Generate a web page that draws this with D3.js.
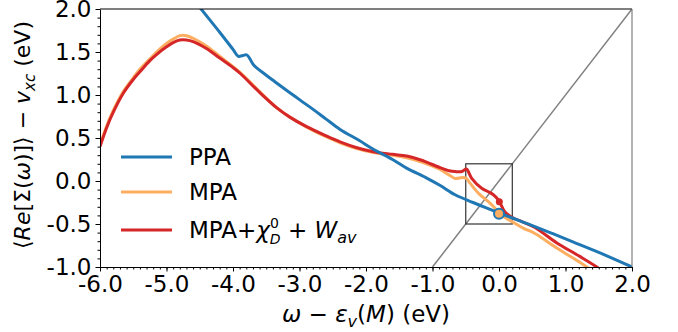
<!DOCTYPE html>
<html>
<head>
<meta charset="utf-8">
<script src="https://cdn.jsdelivr.net/npm/d3@7"></script>
<style>
body { margin: 0; background: #fff; }
svg { font-family: "DejaVu Sans", sans-serif; }
</style>
</head>
<body>
<svg width="678" height="332"></svg>
<script>
var ppaX = [-4.6, -4.47, -4.2, -4.0, -3.92, -3.85, -3.79, -3.69, -3.5, -3.37, -3.15, -2.99, -2.79, -2.6, -2.39, -2.1, -1.89, -1.6, -1.39, -1.1, -0.89, -0.66, -0.39, -0.2, 0.0, 0.2, 0.37, 0.54, 0.8, 1.12, 1.5, 2.0];
var ppaY = [2.12, 1.99, 1.73, 1.53, 1.45, 1.46, 1.465, 1.35, 1.23, 1.155, 1.03, 0.94, 0.83, 0.72, 0.60, 0.47, 0.37, 0.25, 0.15, 0.04, -0.05, -0.16, -0.25, -0.31, -0.37, -0.43, -0.48, -0.53, -0.61, -0.71, -0.83, -1.0];

var mpaX = [-6.0, -5.9, -5.8, -5.65, -5.5, -5.4, -5.25, -5.15, -5.0, -4.9, -4.8, -4.7, -4.6, -4.4, -4.2, -4.0, -3.89, -3.6, -3.34, -3.14, -2.9, -2.6, -2.39, -2.15, -1.89, -1.6, -1.39, -1.2, -1.09, -0.9, -0.75, -0.66, -0.55, -0.49, -0.45, -0.39, -0.3, -0.16, -0.08, 0.0, 0.1, 0.19, 0.37, 0.54, 0.87, 1.1, 1.32, 1.4];
var mpaY = [0.41, 0.64, 0.82, 1.04, 1.20, 1.30, 1.42, 1.50, 1.60, 1.65, 1.69, 1.69, 1.66, 1.57, 1.45, 1.33, 1.26, 1.04, 0.85, 0.74, 0.63, 0.515, 0.445, 0.38, 0.33, 0.30, 0.27, 0.23, 0.20, 0.14, 0.07, 0.03, 0.04, 0.03, -0.01, -0.07, -0.15, -0.24, -0.30, -0.37, -0.43, -0.47, -0.55, -0.61, -0.78, -0.89, -1.0, -1.05];

var mpadX = [-6.0, -5.9, -5.8, -5.65, -5.5, -5.4, -5.25, -5.15, -5.0, -4.9, -4.8, -4.7, -4.6, -4.4, -4.2, -4.0, -3.89, -3.6, -3.34, -3.14, -2.9, -2.6, -2.39, -2.15, -1.89, -1.6, -1.39, -1.2, -1.09, -0.9, -0.75, -0.66, -0.56, -0.49, -0.45, -0.41, -0.26, -0.16, -0.085, -0.01, 0.09, 0.215, 0.37, 0.54, 0.87, 1.2, 1.47, 1.55];
var mpadY = [0.40, 0.62, 0.80, 1.02, 1.18, 1.27, 1.40, 1.47, 1.56, 1.61, 1.64, 1.64, 1.62, 1.54, 1.43, 1.32, 1.25, 1.03, 0.85, 0.74, 0.635, 0.525, 0.455, 0.39, 0.34, 0.31, 0.29, 0.25, 0.22, 0.16, 0.12, 0.11, 0.11, 0.14, 0.09, 0.03, -0.085, -0.125, -0.16, -0.22, -0.36, -0.43, -0.48, -0.54, -0.72, -0.87, -1.0, -1.05];

var qpPPA = [0.0, -0.38];
var qpMPAD = [0.005, -0.24];

var xTicks = [-6, -5, -4, -3, -2, -1, 0, 1, 2];
var yTicks = [-1.0, -0.5, 0.0, 0.5, 1.0, 1.5, 2.0];

var series = [
    {name: "MPA", xs: mpaX, ys: mpaY, color: "#fdae61"},
    {name: "MPA+", xs: mpadX, ys: mpadY, color: "#d62728"},
    {name: "PPA", xs: ppaX, ys: ppaY, color: "#1f77b4"}
];

var svg = d3.select("svg"),
    margin = {top: 9, right: 46, bottom: 65, left: 100},
    width = 678 - margin.left - margin.right,
    height = 332 - margin.top - margin.bottom;

var x = d3.scaleLinear().domain([-6, 2]).range([0, width]);
var y = d3.scaleLinear().domain([-1, 2]).range([height, 0]);

var g = svg.append("g").attr("transform", "translate(" + margin.left + "," + margin.top + ")");

g.append("clipPath").attr("id", "clip")
    .append("rect").attr("width", width).attr("height", height);

var plot = g.append("g").attr("clip-path", "url(#clip)");

// diagonal y = x
plot.append("line")
    .attr("x1", x(-1)).attr("y1", y(-1))
    .attr("x2", x(2)).attr("y2", y(2))
    .attr("stroke", "#808080").attr("stroke-width", 1.5);

// zoom box
plot.append("rect")
    .attr("x", x(-0.5)).attr("y", y(0.2))
    .attr("width", x(0.2) - x(-0.5)).attr("height", y(-0.5) - y(0.2))
    .attr("fill", "none").attr("stroke", "#333").attr("stroke-width", 1.2);

var line = d3.line()
    .x(function (d) { return x(d[0]); })
    .y(function (d) { return y(d[1]); })
    .curve(d3.curveCatmullRom.alpha(0.5));

series.forEach(function (s) {
    plot.append("path")
        .datum(d3.zip(s.xs, s.ys))
        .attr("fill", "none")
        .attr("stroke", s.color)
        .attr("stroke-width", 3)
        .attr("stroke-linejoin", "round")
        .attr("d", line);
});

plot.append("circle")
    .attr("cx", x(qpMPAD[0])).attr("cy", y(qpMPAD[1])).attr("r", 3.5)
    .attr("fill", "#d62728");

plot.append("circle")
    .attr("cx", x(qpPPA[0])).attr("cy", y(qpPPA[1])).attr("r", 5)
    .attr("fill", "#fdae61").attr("stroke", "#1f77b4").attr("stroke-width", 2);

// frame
g.append("line").attr("x1", 0).attr("x2", width).attr("y1", 0).attr("y2", 0)
    .attr("stroke", "#000").attr("stroke-width", 1);
g.append("line").attr("x1", width).attr("x2", width).attr("y1", 0).attr("y2", height)
    .attr("stroke", "#808080").attr("stroke-width", 1.2);

// axes
var fmt = function (d) { return d.toFixed(1); };

var xMinor = d3.range(-60, 21).map(function (d) { return d / 10; });
var yMinor = d3.range(-10, 21).map(function (d) { return d / 10; });

g.append("g").attr("transform", "translate(0," + height + ")")
    .call(d3.axisBottom(x).tickValues(xMinor).tickSize(2.5).tickFormat(""))
    .call(function (a) { a.select(".domain").remove(); });
g.append("g").attr("transform", "translate(0," + height + ")")
    .call(d3.axisBottom(x).tickValues(xTicks).tickSize(4.5).tickSizeOuter(0).tickPadding(4).tickFormat(fmt))
    .call(function (a) {
        a.selectAll("text").attr("font-size", 23).attr("fill", "#000").attr("font-family", "DejaVu Sans");
    });

g.append("g")
    .call(d3.axisLeft(y).tickValues(yMinor).tickSize(2.5).tickFormat(""))
    .call(function (a) { a.select(".domain").remove(); });
g.append("g")
    .call(d3.axisLeft(y).tickValues(yTicks).tickSize(4.5).tickSizeOuter(0).tickPadding(4).tickFormat(fmt))
    .call(function (a) {
        a.selectAll("text").attr("font-size", 23).attr("fill", "#000").attr("font-family", "DejaVu Sans");
    });

// axis labels
var xl = svg.append("text")
    .attr("x", margin.left + width / 2).attr("y", 322)
    .attr("text-anchor", "middle").attr("font-size", 23);
xl.append("tspan").attr("font-style", "italic").text("ω");
xl.append("tspan").text(" − ");
xl.append("tspan").attr("font-style", "italic").text("ε");
xl.append("tspan").attr("font-style", "italic").attr("font-size", 16).attr("dy", 5).text("v");
xl.append("tspan").attr("dy", -5).text("(");
xl.append("tspan").attr("font-style", "italic").text("M");
xl.append("tspan").text(") (eV)");

var yl = svg.append("text")
    .attr("transform", "translate(30,135) rotate(-90)")
    .attr("text-anchor", "middle").attr("font-size", 22);
yl.append("tspan").text("⟨");
yl.append("tspan").attr("font-style", "italic").text("Re");
yl.append("tspan").text("[Σ(");
yl.append("tspan").attr("font-style", "italic").text("ω");
yl.append("tspan").text(")]⟩ − ");
yl.append("tspan").attr("font-style", "italic").text("v");
yl.append("tspan").attr("font-style", "italic").attr("font-size", 15).attr("dy", 5).text("xc");
yl.append("tspan").attr("dy", -5).text(" (eV)");

// legend
var legend = [
    {label: "PPA", color: "#1f77b4"},
    {label: "MPA", color: "#fdae61"},
    {label: "MPA+", color: "#d62728"}
];
var ly = [157, 192, 230];
legend.forEach(function (d, i) {
    svg.append("line")
        .attr("x1", 121).attr("x2", 172)
        .attr("y1", ly[i]).attr("y2", ly[i])
        .attr("stroke", d.color).attr("stroke-width", 3);
    var t = svg.append("text").attr("x", 189).attr("y", ly[i] + 8).attr("font-size", 23);
    if (i < 2) {
        t.text(d.label);
    } else {
        t.append("tspan").text("MPA+");
        t.append("tspan").attr("font-style", "italic").text("χ");
        t.append("tspan").attr("font-size", 14).attr("dy", -10).text("0");
        t.append("tspan").attr("font-size", 14).attr("font-style", "italic").attr("dx", -9).attr("dy", 16).text("D");
        t.append("tspan").attr("dy", -6).text(" + ");
        t.append("tspan").attr("font-style", "italic").text("W");
        t.append("tspan").attr("font-size", 16).attr("font-style", "italic").attr("dy", 5).text("av");
    }
});
</script>
</body>
</html>
